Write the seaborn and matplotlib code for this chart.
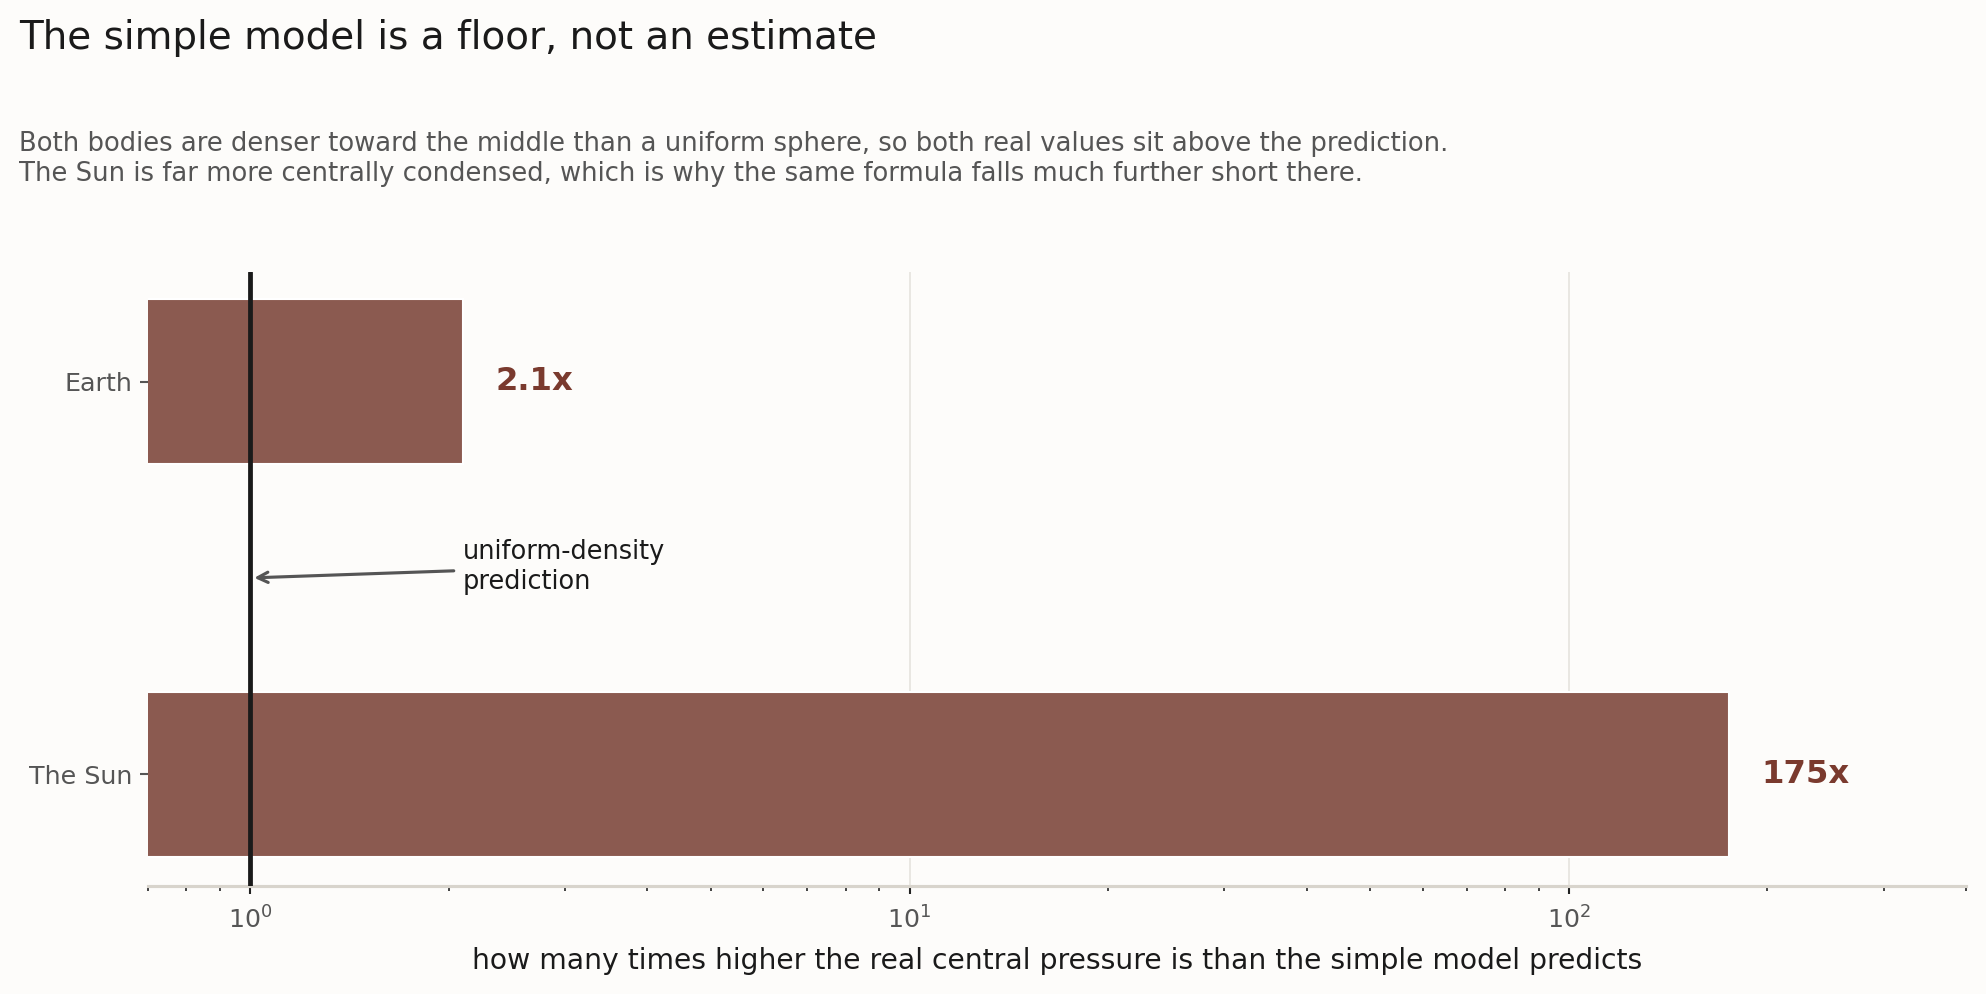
import matplotlib
matplotlib.use("Agg")
import matplotlib.pyplot as plt
import pandas as pd
import seaborn as sns

bodies = ["Earth", "The Sun"]
ratios = [2.1, 175]
ratio_labels = ["2.1x", "175x"]

bg = "#fdfcfa"
bar_color = "#8b5a50"
label_color = "#7a3a2e"

sns.set_style("white")
plt.rcParams["font.family"] = ["DejaVu Sans"]

df = pd.DataFrame({"body": bodies, "ratio": ratios})

fig = plt.figure(figsize=(13.24, 6.627), dpi=150)
fig.patch.set_facecolor(bg)
ax = fig.add_axes([0.0745, 0.1087, 0.9154, 0.6177])
ax.set_facecolor(bg)

sns.barplot(data=df, x="ratio", y="body", orient="h", color=bar_color,
            width=0.42, saturation=1, ax=ax)
ax.set_xscale("log")

ax.set_xlim(0.7, 400)
ax.set_ylim(1.285, -0.28)

ax.grid(axis="x", which="major", color="#e6e3de", linewidth=0.8, zorder=0)
ax.set_axisbelow(True)
ax.axvline(1, color="#1a1a1a", linewidth=2.3, zorder=3)

for i, (v, t) in enumerate(zip(ratios, ratio_labels)):
    ax.text(v * 1.12, i, t, ha="left", va="center", fontsize=15.5,
            fontweight="bold", color=label_color)

ax.annotate("uniform-density\nprediction", xy=(1.0, 0.5), xytext=(2.1, 0.472),
            ha="left", va="center", fontsize=12.3, color="#1a1a1a",
            arrowprops=dict(arrowstyle="->", color="#555555", lw=1.5))

for s in ["top", "right", "left"]:
    ax.spines[s].set_visible(False)
ax.spines["bottom"].set_color("#d8d4cc")
ax.spines["bottom"].set_linewidth(1.5)

ax.tick_params(axis="x", which="major", bottom=True, length=4, width=1,
               color="#222222", labelsize=12.2, labelcolor="#555555", pad=6)
ax.tick_params(axis="x", which="minor", bottom=True, length=2.5, width=0.8,
               color="#222222")
ax.tick_params(axis="y", left=True, length=4, width=1, color="#555555",
               labelsize=12.2, labelcolor="#555555")

ax.set_ylabel("")
ax.set_xlabel("how many times higher the real central pressure is than the simple model predicts",
              fontsize=13.55, color="#1a1a1a", labelpad=6)

fig.text(0.0096, 0.981, "The simple model is a floor, not an estimate",
         ha="left", va="top", fontsize=18.7, color="#1a1a1a")
fig.text(0.0096, 0.868,
         "Both bodies are denser toward the middle than a uniform sphere, so both real values sit above the prediction.\n"
         "The Sun is far more centrally condensed, which is why the same formula falls much further short there.",
         ha="left", va="top", fontsize=12.4, color="#555555")

fig.savefig("out.png", dpi=150, facecolor=bg)
